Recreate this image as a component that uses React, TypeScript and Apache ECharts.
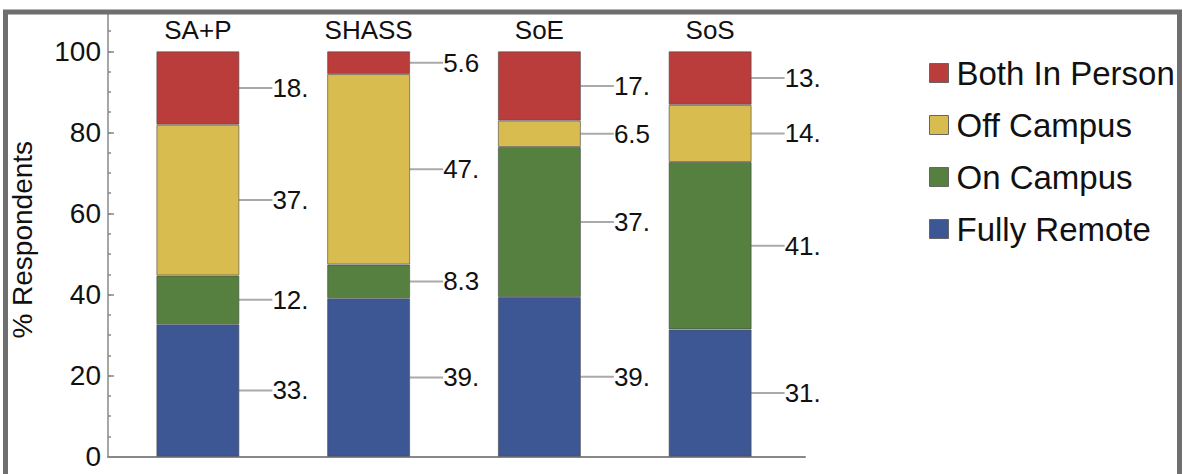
import React, { useEffect, useRef } from "react";
import * as echarts from "echarts";

const categories = ["SA+P", "SHASS", "SoE", "SoS"];
const seriesNames = ["Fully Remote", "On Campus", "Off Campus", "Both In Person"];
const fullyRemote = [32.7, 39.1, 39.4, 31.4];
const onCampus = [12.0, 8.3, 37.0, 41.3];
const offCampus = [37.2, 47.0, 6.5, 14.1];
const bothInPerson = [18.1, 5.6, 17.1, 13.2];
const seriesColors = ["#3d5795", "#558040", "#d9bc4f", "#ba3d3b"];
const legendOrder = ["Both In Person", "Off Campus", "On Campus", "Fully Remote"];
const yMajorInterval = 20;
const yMinorInterval = 5;
const yMax = 110;

const FONT = "'Liberation Sans', Arial, sans-serif";

function fmt(v: number): string {
  if (v >= 10) return Math.round(v) + ".";
  return v.toFixed(1);
}

export default function App() {
  const ref = useRef<HTMLDivElement>(null);
  useEffect(() => {
    if (!ref.current) return;
    const chart = echarts.init(ref.current, undefined, { renderer: "svg" });
    const values = [fullyRemote, onCampus, offCampus, bothInPerson];
    const gridTop = 10.8;
    const gridBottom = 17.3;
    chart.setOption({
      animation: false,
      backgroundColor: "#ffffff",
      textStyle: { fontFamily: FONT },
      grid: [
        { left: 112.5, width: 683, top: gridTop, bottom: gridBottom },
        { left: 104, width: 701, top: gridTop, bottom: gridBottom },
      ],
      xAxis: [
        {
          type: "category",
          gridIndex: 0,
          data: categories,
          position: "top",
          axisLine: { show: false },
          axisTick: { show: false },
          axisLabel: {
            inside: true,
            margin: 6,
            fontSize: 26,
            color: "#111",
            fontFamily: FONT,
          },
        },
        {
          type: "value",
          gridIndex: 1,
          min: 0,
          max: 1,
          axisLine: { show: true, lineStyle: { color: "#888", width: 2 } },
          axisTick: { show: false },
          axisLabel: { show: false },
          splitLine: { show: false },
        },
      ],
      yAxis: [
        {
          type: "value",
          gridIndex: 0,
          min: 0,
          max: yMax,
          show: false,
          splitLine: { show: false },
        },
        {
          type: "value",
          gridIndex: 1,
          position: "left",
          min: 0,
          max: yMax,
          interval: yMajorInterval,
          axisLine: { show: true, lineStyle: { color: "#888", width: 1.5 } },
          axisTick: { show: true, inside: true, length: 6, lineStyle: { color: "#888", width: 1.5 } },
          axisLabel: {
            showMaxLabel: false,
            margin: 7,
            fontSize: 28,
            color: "#111",
            fontFamily: FONT,
          },
          splitLine: { show: false },
          name: "% Respondents",
          nameLocation: "middle",
          nameGap: 72,
          nameTextStyle: { fontSize: 28, color: "#111", fontFamily: FONT, padding: [0, 12, 0, 0] },
        },
        {
          type: "value",
          gridIndex: 1,
          position: "left",
          min: 0,
          max: yMax,
          interval: yMinorInterval,
          axisLine: { show: false },
          axisTick: { show: true, inside: true, length: 3, lineStyle: { color: "#888", width: 1.5 } },
          axisLabel: { show: false },
          splitLine: { show: false },
        },
      ],
      legend: {
        orient: "vertical",
        left: 924,
        top: 51,
        itemWidth: 19,
        itemHeight: 19,
        itemGap: 18,
        icon: "rect",
        data: legendOrder,
        textStyle: { fontSize: 33, lineHeight: 34, color: "#111", fontFamily: FONT, padding: [0, 0, 0, 3] },
        itemStyle: { borderColor: "#666", borderWidth: 1 },
      },
      series: seriesNames.map((name, i) => ({
        name,
        type: "bar",
        stack: "total",
        xAxisIndex: 0,
        yAxisIndex: 0,
        barWidth: 83,
        data: values[i],
        itemStyle: { color: seriesColors[i], borderColor: "rgba(70,70,70,0.6)", borderWidth: 1 },
        label: {
          show: true,
          position: "right",
          distance: 3,
          fontSize: 26,
          color: "#111",
          fontFamily: FONT,
          padding: [0, 0, 0, 4],
          formatter: (p: any) => fmt(p.value),
        },
        labelLayout: { dx: 26 },
        labelLine: { show: true, lineStyle: { color: "#aaa", width: 2 } },
      })),
      graphic: [
        {
          type: "rect",
          z: 100,
          shape: { x: 5.5, y: 12, width: 1174, height: 500 },
          style: { fill: "none", stroke: "#6e6e6e", lineWidth: 5 },
        },
      ],
    });
    return () => chart.dispose();
  }, []);
  return (
    <div
      ref={ref}
      style={{ position: "fixed", left: 0, top: 0, width: 1183, height: 474 }}
    />
  );
}
